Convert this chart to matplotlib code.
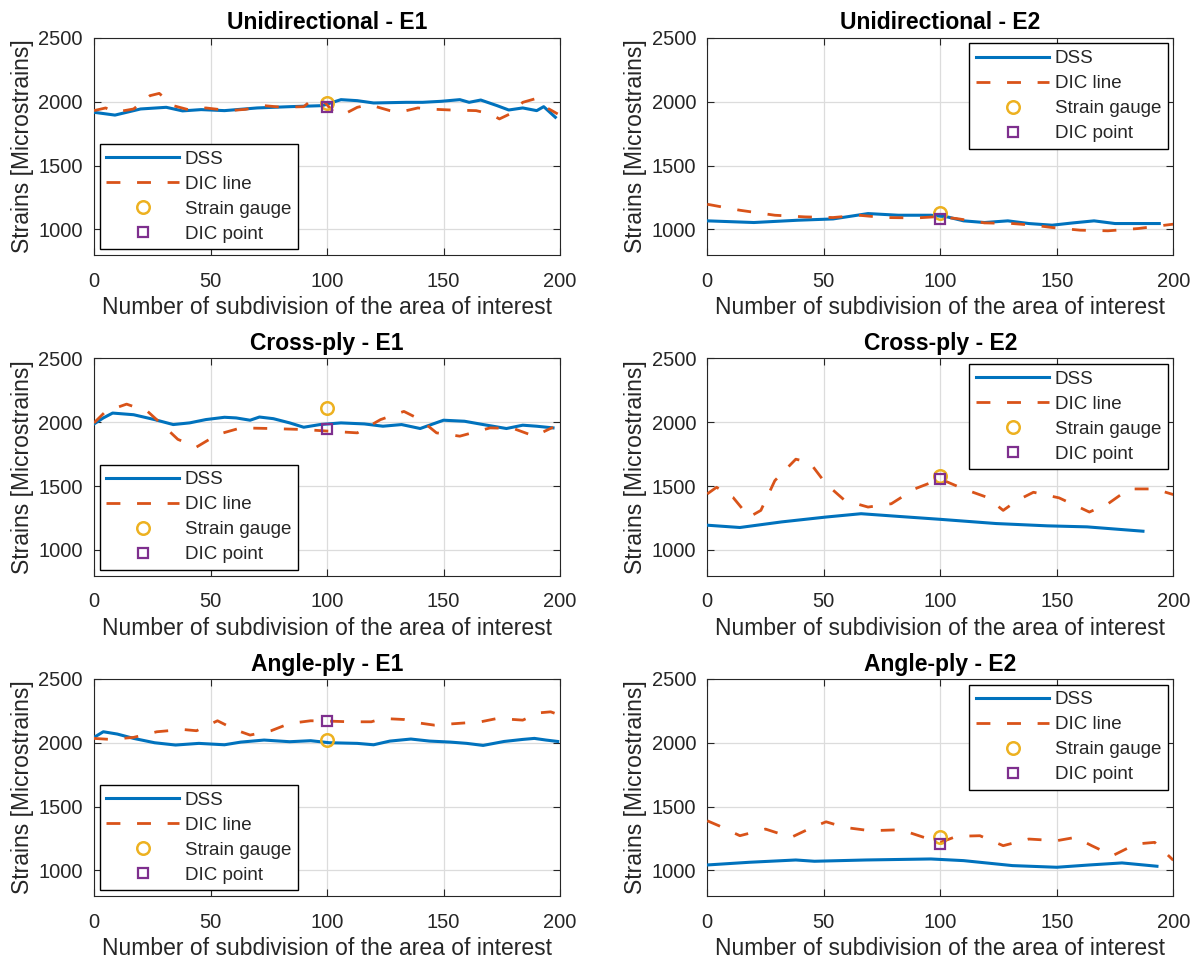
import matplotlib
matplotlib.use("Agg")
import matplotlib.pyplot as plt

plt.rcParams['font.family'] = ['Liberation Sans', 'DejaVu Sans']

# ---------------- data ----------------
titles = ["Unidirectional - E1", "Unidirectional - E2",
          "Cross-ply - E1", "Cross-ply - E2",
          "Angle-ply - E1", "Angle-ply - E2"]
legend_labels = ["DSS", "DIC line", "Strain gauge", "DIC point"]
xlabel_text = "Number of subdivision of the area of interest"
ylabel_text = "Strains [Microstrains]"
x_ticks = [0, 50, 100, 150, 200]
y_ticks = [1000, 1500, 2000, 2500]

# Unidirectional - E1
ud_e1_dss_x = [0, 9, 20, 31, 38, 46, 56, 70, 84, 98, 106, 113, 120, 134, 141, 149, 157, 161, 166, 173, 178, 184, 190, 193, 198]
ud_e1_dss_y = [1917, 1895, 1943, 1956, 1928, 1938, 1930, 1951, 1961, 1969, 2016, 2008, 1990, 1995, 1995, 2003, 2016, 1995, 2013, 1969, 1935, 1951, 1930, 1961, 1878]
ud_e1_dic_x = [0, 5, 9, 17, 24, 28, 34, 41, 48, 58, 65, 73, 81, 90, 94, 99, 103, 107, 113, 118, 127, 131, 139, 143, 153, 164, 170, 174, 180, 184, 189, 194, 199]
ud_e1_dic_y = [1930, 1951, 1917, 1943, 2047, 2065, 1969, 1935, 1951, 1930, 1940, 1969, 1956, 1961, 2021, 1995, 1917, 1899, 1956, 1977, 1930, 1917, 1951, 1943, 1935, 1930, 1904, 1865, 1917, 1995, 2021, 1956, 1904]
ud_e1_sg = 1990
ud_e1_dicp = 1960

# Unidirectional - E2
ud_e2_dss_x = [0, 20, 39, 54, 69, 82, 96, 103, 110, 119, 129, 138, 148, 157, 166, 175, 194]
ud_e2_dss_y = [1067, 1054, 1072, 1082, 1124, 1111, 1111, 1098, 1067, 1054, 1067, 1046, 1033, 1051, 1067, 1046, 1046]
ud_e2_dic_x = [0, 14, 29, 42, 54, 65, 76, 90, 99, 107, 119, 131, 140, 148, 160, 172, 185, 200]
ud_e2_dic_y = [1197, 1150, 1111, 1098, 1093, 1111, 1093, 1090, 1100, 1085, 1051, 1046, 1033, 1015, 994, 989, 1007, 1041]
ud_e2_sg = 1130
ud_e2_dicp = 1082

# Cross-ply - E1
cp_e1_dss_x = [0, 4, 8, 17, 26, 34, 41, 48, 56, 61, 67, 71, 77, 84, 90, 97, 106, 116, 124, 132, 140, 150, 159, 167, 177, 184, 190, 197]
cp_e1_dss_y = [1987, 2034, 2072, 2059, 2021, 1982, 1995, 2021, 2039, 2034, 2016, 2041, 2028, 1995, 1961, 1982, 1995, 1987, 1969, 1982, 1951, 2016, 2008, 1982, 1951, 1977, 1969, 1956]
cp_e1_dic_x = [0, 5, 14, 23, 30, 36, 44, 53, 63, 76, 90, 101, 113, 123, 133, 140, 147, 157, 170, 180, 189, 197]
cp_e1_dic_y = [1995, 2085, 2142, 2085, 1969, 1866, 1806, 1904, 1956, 1951, 1943, 1930, 1917, 2021, 2085, 2021, 1917, 1891, 1956, 1951, 1891, 1961]
cp_e1_sg = 2111
cp_e1_dicp = 1945

# Cross-ply - E2
cp_e2_dss_x = [0, 14, 32, 51, 66, 82, 100, 124, 146, 163, 187]
cp_e2_dss_y = [1194, 1176, 1220, 1258, 1284, 1263, 1240, 1207, 1189, 1181, 1147]
cp_e2_dic_x = [0, 4, 11, 18, 23, 29, 38, 44, 51, 59, 69, 79, 89, 100, 110, 120, 127, 133, 140, 151, 164, 172, 181, 192, 200]
cp_e2_dic_y = [1439, 1491, 1413, 1258, 1310, 1543, 1711, 1685, 1517, 1388, 1336, 1362, 1478, 1556, 1478, 1413, 1310, 1388, 1452, 1408, 1297, 1362, 1478, 1478, 1434]
cp_e2_sg = 1580
cp_e2_dicp = 1556

# Angle-ply - E1
ap_e1_dss_x = [0, 4, 10, 17, 26, 35, 45, 56, 63, 73, 84, 93, 101, 113, 120, 127, 136, 144, 153, 160, 167, 176, 184, 189, 194, 199]
ap_e1_dss_y = [2042, 2086, 2068, 2034, 2000, 1982, 1995, 1984, 2005, 2021, 2008, 2016, 2000, 1995, 1984, 2013, 2029, 2013, 2005, 1995, 1979, 2010, 2026, 2034, 2021, 2010]
ap_e1_dic_x = [0, 7, 17, 27, 38, 44, 53, 61, 67, 76, 84, 93, 101, 110, 119, 124, 133, 139, 146, 156, 166, 173, 180, 184, 191, 196, 200]
ap_e1_dic_y = [2034, 2026, 2042, 2086, 2104, 2094, 2172, 2099, 2060, 2094, 2151, 2172, 2169, 2164, 2164, 2190, 2182, 2156, 2138, 2151, 2164, 2190, 2182, 2177, 2234, 2242, 2216]
ap_e1_sg = 2018
ap_e1_dicp = 2169

# Angle-ply - E2
ap_e2_dss_x = [0, 18, 38, 46, 68, 96, 110, 131, 150, 164, 178, 193]
ap_e2_dss_y = [1043, 1064, 1082, 1072, 1082, 1090, 1077, 1038, 1025, 1043, 1059, 1033]
ap_e2_dic_x = [0, 5, 14, 25, 36, 45, 51, 59, 70, 83, 93, 100, 107, 117, 127, 138, 150, 158, 165, 174, 184, 192, 200]
ap_e2_dic_y = [1389, 1350, 1272, 1324, 1259, 1337, 1381, 1337, 1311, 1319, 1259, 1220, 1267, 1272, 1194, 1246, 1233, 1259, 1194, 1116, 1207, 1220, 1080]
ap_e2_sg = 1262
ap_e2_dicp = 1207

point_x = 100

panels = [
    (ud_e1_dss_x, ud_e1_dss_y, ud_e1_dic_x, ud_e1_dic_y, ud_e1_sg, ud_e1_dicp, "lower left"),
    (ud_e2_dss_x, ud_e2_dss_y, ud_e2_dic_x, ud_e2_dic_y, ud_e2_sg, ud_e2_dicp, "upper right"),
    (cp_e1_dss_x, cp_e1_dss_y, cp_e1_dic_x, cp_e1_dic_y, cp_e1_sg, cp_e1_dicp, "lower left"),
    (cp_e2_dss_x, cp_e2_dss_y, cp_e2_dic_x, cp_e2_dic_y, cp_e2_sg, cp_e2_dicp, "upper right"),
    (ap_e1_dss_x, ap_e1_dss_y, ap_e1_dic_x, ap_e1_dic_y, ap_e1_sg, ap_e1_dicp, "lower left"),
    (ap_e2_dss_x, ap_e2_dss_y, ap_e2_dic_x, ap_e2_dic_y, ap_e2_sg, ap_e2_dicp, "upper right"),
]

# ---------------- styling ----------------
c_blue = "#0072BD"
c_orange = "#D95319"
c_yellow = "#EDB120"
c_purple = "#7E2F8E"
txt = "#262626"
fs_tick = 14.5
fs_lab = 16.5
fs_leg = 13.5

fig = plt.figure(figsize=(12.02, 9.65), dpi=100)

lefts = [0.0782, 0.5884]
bottoms = [0.7358, 0.4036, 0.0715]
w, h = 0.3877, 0.2250

for i, (dx, dy, cx, cy, sg, dp, loc) in enumerate(panels):
    r, c = divmod(i, 2)
    ax = fig.add_axes([lefts[c], bottoms[r], w, h])
    ax.plot(dx, dy, color=c_blue, lw=2.2, label=legend_labels[0], zorder=3)
    ax.plot(cx, cy, color=c_orange, lw=2.0, dashes=(5, 6), label=legend_labels[1], zorder=3)
    ax.plot([point_x], [sg], linestyle='none', marker='o', ms=9, mfc='none',
            mec=c_yellow, mew=1.8, label=legend_labels[2], zorder=4)
    ax.plot([point_x], [dp], linestyle='none', marker='s', ms=7.5, mfc='none',
            mec=c_purple, mew=1.6, label=legend_labels[3], zorder=4)
    ax.set_xlim(0, 200)
    ax.set_ylim(800, 2500)
    ax.set_xticks(x_ticks)
    ax.set_yticks(y_ticks)
    ax.grid(True, color="#dcdcdc", lw=0.9)
    ax.set_axisbelow(True)
    ax.tick_params(direction='in', top=True, right=True, labelsize=fs_tick,
                   colors=txt, length=5, width=0.8)
    ax.tick_params(axis='x', pad=12)
    ax.tick_params(axis='y', pad=8)
    for s in ax.spines.values():
        s.set_color(txt)
        s.set_linewidth(0.8)
    ax.set_title(titles[i], fontsize=fs_lab, fontweight='bold', color='#000000', pad=6)
    ax.set_xlabel(xlabel_text, fontsize=fs_lab, color=txt, labelpad=4)
    ax.set_ylabel(ylabel_text, fontsize=fs_lab, color=txt, labelpad=3)
    leg = ax.legend(loc=loc, fontsize=fs_leg, frameon=True, fancybox=False,
                    edgecolor='#000000', framealpha=1, handlelength=3.9,
                    handletextpad=0.3, labelspacing=0.42, borderpad=0.35,
                    borderaxespad=0.3)
    leg.get_frame().set_linewidth(1.0)
    for t in leg.get_texts():
        t.set_color(txt)

fig.savefig("out.png", dpi=100)
